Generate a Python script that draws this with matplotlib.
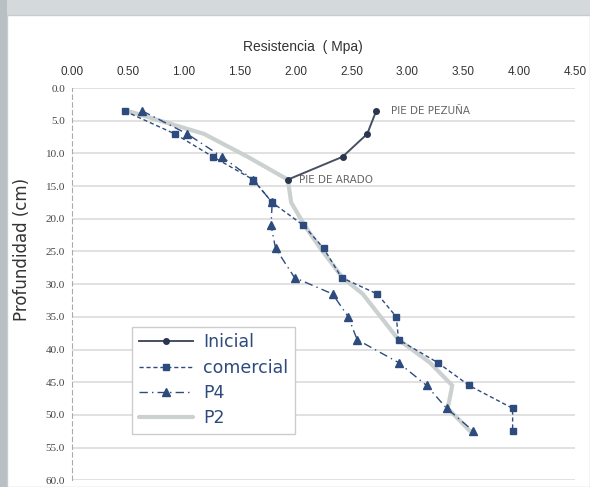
import matplotlib.pyplot as plt
from matplotlib.patches import Rectangle

# profundidad (cm) y resistencia (Mpa)
depth = [3.5, 7.0, 10.5, 14.0, 17.5, 21.0, 24.5, 29.0, 31.5, 35.0, 38.5, 42.0, 45.5, 49.0, 52.5]
depth_inicial = [3.5, 7.0, 10.5, 14.0]

inicial = [2.72, 2.64, 2.42, 1.93]
comercial = [0.47, 0.92, 1.26, 1.62, 1.79, 2.07, 2.25, 2.41, 2.73, 2.90, 2.92, 3.27, 3.55, 3.94, 3.94]
p4 = [0.63, 1.03, 1.34, 1.62, 1.79, 1.78, 1.82, 1.99, 2.33, 2.47, 2.55, 2.92, 3.17, 3.35, 3.59]
p2 = [0.50, 1.18, 1.57, 1.93, 1.96, 2.08, 2.22, 2.42, 2.60, 2.76, 2.92, 3.20, 3.40, 3.36, 3.56]

x_ticks = [0.0, 0.5, 1.0, 1.5, 2.0, 2.5, 3.0, 3.5, 4.0, 4.5]
y_ticks = [0, 5, 10, 15, 20, 25, 30, 35, 40, 45, 50, 55, 60]

navy = '#2e4b7e'

fig = plt.figure(figsize=(5.9, 4.87), dpi=100)
fig.patch.set_facecolor('white')

# marco gris alrededor del grafico
fig.patches.append(Rectangle((0, 0.969), 1, 0.031, transform=fig.transFigure,
                             facecolor='#d4d9dc', edgecolor='none', zorder=-2))
fig.patches.append(Rectangle((0, 0), 0.012, 1, transform=fig.transFigure,
                             facecolor='#b9c0c4', edgecolor='none', zorder=-2))
fig.patches.append(Rectangle((0.012, 0), 0.988, 0.969, transform=fig.transFigure,
                             facecolor='white', edgecolor='#c8cccf', lw=1, zorder=-1))

ax = fig.add_axes([0.122, 0.014, 0.853, 0.805])
ax.set_zorder(1)
ax.patch.set_alpha(0)

ax.plot(p2, depth, color='#cbd0d0', lw=3, solid_capstyle='round', label='P2', zorder=2)
ax.plot(inicial, depth_inicial, color='#47505f', lw=1.4, marker='o', markersize=4,
        markerfacecolor='#2a3550', markeredgecolor='#2a3550', label='Inicial', zorder=4)
ax.plot(comercial, depth, color=navy, lw=1.0, linestyle=(0, (3, 2)), marker='s', markersize=5,
        markerfacecolor=navy, markeredgecolor=navy, label='comercial', zorder=3)
ax.plot(p4, depth, color=navy, lw=1.0, linestyle=(0, (6, 3, 1, 3)), marker='^', markersize=6,
        markerfacecolor=navy, markeredgecolor=navy, label='P4', zorder=3)

ax.annotate('PIE DE PEZUÑA', xy=(inicial[0], depth_inicial[0]), xytext=(11, 0),
            textcoords='offset points', fontsize=7.5, color='#666666', va='center')
ax.annotate('PIE DE ARADO', xy=(inicial[3], depth_inicial[3]), xytext=(8, 0),
            textcoords='offset points', fontsize=7.5, color='#666666', va='center')

ax.set_xlim(0, 4.5)
ax.set_ylim(60, 0)
ax.xaxis.tick_top()
ax.set_xticks(x_ticks)
ax.set_xticklabels(['%.2f' % v for v in x_ticks], fontsize=8.5, color='#333333',
                   family='Liberation Sans')
ax.set_yticks(y_ticks)
ax.set_yticklabels(['%.1f' % v for v in y_ticks], fontsize=8, color='#444444',
                   family='Liberation Serif')
ax.tick_params(axis='x', length=0, pad=7)
ax.tick_params(axis='y', length=0, pad=5)

ax.grid(axis='y', color='#dedede', lw=1.3)
ax.set_axisbelow(True)
for side in ['top', 'right', 'bottom']:
    ax.spines[side].set_visible(False)
ax.spines['left'].set_linestyle((0, (4, 3)))
ax.spines['left'].set_color('#aaaaaa')

fig.text(0.513, 0.903, 'Resistencia  ( Mpa)', fontsize=10, color='#333333', ha='center',
         va='center', family='Liberation Sans')
fig.text(0.038, 0.487, 'Profundidad (cm)', fontsize=12, color='#333333', rotation=90,
         ha='center', va='center')

handles, labels = ax.get_legend_handles_labels()
order = [1, 2, 3, 0]
leg = ax.legend([handles[i] for i in order], [labels[i] for i in order],
                loc='upper left', bbox_to_anchor=(0.119, 0.392), borderaxespad=0,
                prop={'family': 'DejaVu Sans', 'size': 12.5}, handlelength=3.1,
                handletextpad=0.6, labelspacing=0.42, borderpad=0.4, fancybox=False,
                edgecolor='#cccccc', framealpha=1)
for t in leg.get_texts():
    t.set_color('#2e4b7e')

fig.savefig('out.png', dpi=100, facecolor=fig.get_facecolor())
